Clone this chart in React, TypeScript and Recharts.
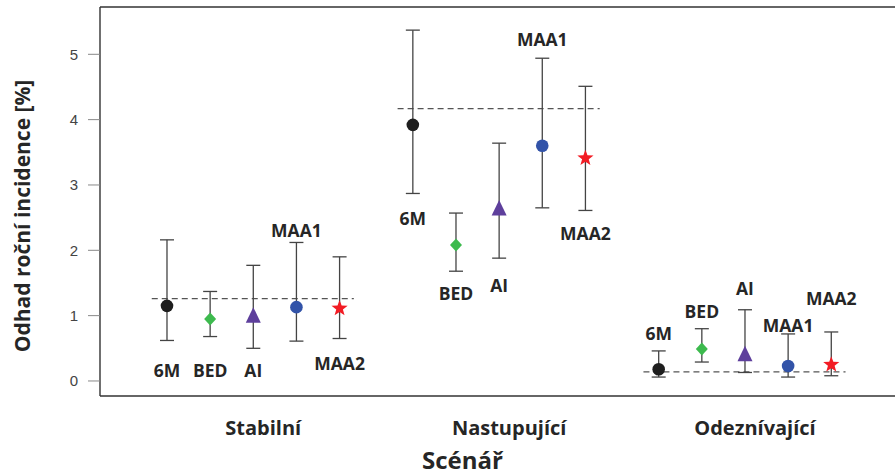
import React from "react"
import { ErrorBar, ReferenceLine, Scatter, ScatterChart, XAxis, YAxis } from "recharts"

const scenarios = ["Stabilní", "Nastupující", "Odeznívající"]
const methods = ["6M", "BED", "AI", "MAA1", "MAA2"]

// point estimates, per scenario
const est6M = [1.15, 3.92, 0.18]
const estBED = [0.95, 2.08, 0.49]
const estAI = [1.0, 2.64, 0.41]
const estMAA1 = [1.13, 3.6, 0.23]
const estMAA2 = [1.11, 3.41, 0.25]

// confidence intervals
const low6M = [0.62, 2.87, 0.06]
const up6M = [2.16, 5.37, 0.46]
const lowBED = [0.68, 1.68, 0.29]
const upBED = [1.37, 2.57, 0.8]
const lowAI = [0.5, 1.88, 0.13]
const upAI = [1.77, 3.64, 1.09]
const lowMAA1 = [0.61, 2.65, 0.06]
const upMAA1 = [2.12, 4.94, 0.72]
const lowMAA2 = [0.65, 2.61, 0.08]
const upMAA2 = [1.9, 4.51, 0.75]

// dashed line: true incidence in each scenario
const trueIncidence = [1.26, 4.17, 0.14]

// where the method name is written (y value)
const lbl6M = [0.17, 2.5, 0.74]
const lblBED = [0.17, 1.35, 1.07]
const lblAI = [0.17, 1.47, 1.42]
const lblMAA1 = [2.31, 5.24, 0.85]
const lblMAA2 = [0.28, 2.27, 1.27]

const yTicks = [0, 1, 2, 3, 4, 5]

const STEP = 0.1755
const FONT = "'Open Sans', sans-serif"
const TEXT = "#262626"

const xOf = (g: number, m: number) => g + 1 + (m - 2) * STEP

const star = (cx: number, cy: number, ro: number, ri: number) => {
  const pts: string[] = []
  for (let i = 0; i < 10; i++) {
    const r = i % 2 === 0 ? ro : ri
    const a = -Math.PI / 2 + (i * Math.PI) / 5
    pts.push(`${cx + r * Math.cos(a)},${cy + r * Math.sin(a)}`)
  }
  return pts.join(" ")
}

const shapes: Record<string, (p: any) => React.ReactElement> = {
  "6M": ({ cx, cy }) => <circle cx={cx} cy={cy} r={6.3} fill="#1e1e1e" />,
  BED: ({ cx, cy }) => (
    <polygon points={`${cx},${cy - 6.5} ${cx + 6},${cy} ${cx},${cy + 6.5} ${cx - 6},${cy}`} fill="#3dba4e" />
  ),
  AI: ({ cx, cy }) => (
    <polygon points={`${cx},${cy - 8.5} ${cx + 7.5},${cy + 7} ${cx - 7.5},${cy + 7}`} fill="#5e3f9c" />
  ),
  MAA1: ({ cx, cy }) => <circle cx={cx} cy={cy} r={6.3} fill="#3253a8" />,
  MAA2: ({ cx, cy }) => <polygon points={star(cx, cy, 8.5, 3.5)} fill="#f21c24" />,
}

const series = [
  { name: "6M", est: est6M, low: low6M, up: up6M, lbl: lbl6M },
  { name: "BED", est: estBED, low: lowBED, up: upBED, lbl: lblBED },
  { name: "AI", est: estAI, low: lowAI, up: upAI, lbl: lblAI },
  { name: "MAA1", est: estMAA1, low: lowMAA1, up: upMAA1, lbl: lblMAA1 },
  { name: "MAA2", est: estMAA2, low: lowMAA2, up: upMAA2, lbl: lblMAA2 },
]

const labelData = series.flatMap((s, m) =>
  scenarios.map((_, g) => ({ x: xOf(g, m), y: s.lbl[g], text: s.name }))
)

const GroupTick = ({ x, y, payload }: any) => (
  <text
    x={x + 10}
    y={y + 23}
    textAnchor="middle"
    dominantBaseline="central"
    fontFamily={FONT}
    fontWeight={700}
    fontSize={20}
    fill={TEXT}
  >
    {scenarios[payload.value - 1]}
  </text>
)

export default function App() {
  return (
    <div style={{ position: "absolute", left: 0, top: 0 }}>
      <ScatterChart width={895} height={476} margin={{ top: 7, right: 0, bottom: 0, left: 0 }}>
        <XAxis
          type="number"
          dataKey="x"
          domain={[0.3765, 3.6102]}
          ticks={[1, 2, 3]}
          tick={<GroupTick />}
          tickLine={false}
          height={80}
          axisLine={{ stroke: "#333", strokeWidth: 1.4 }}
          label={({ viewBox }: any) => (
            <text
              x={viewBox.x + viewBox.width / 2 - 35}
              y={viewBox.y + 73}
              textAnchor="middle"
              fontFamily={FONT}
              fontWeight={700}
              fontSize={24}
              fill={TEXT}
            >
              Scénář
            </text>
          )}
        />
        <YAxis
          type="number"
          dataKey="y"
          domain={[-0.23, 5.724]}
          ticks={yTicks}
          width={100}
          tickSize={12}
          tickMargin={10}
          tickLine={{ stroke: "#888" }}
          axisLine={{ stroke: "#333", strokeWidth: 1.4 }}
          tick={{ fontFamily: "'Liberation Sans', Arial, sans-serif", fontSize: 15, fill: "#444" }}
          allowDataOverflow
          label={() => (
            <text
              x={22}
              y={216}
              transform={`rotate(-90 22 216)`}
              textAnchor="middle"
              dominantBaseline="central"
              fontFamily={FONT}
              fontWeight={700}
              fontSize={21}
              fill={TEXT}
            >
              Odhad roční incidence [%]
            </text>
          )}
        />
        <ReferenceLine y={5.724} stroke="#333" strokeWidth={1.4} />
        {trueIncidence.map((v, g) => (
          <ReferenceLine
            key={g}
            segment={[
              { x: g + 1 - 2 * STEP - 0.062, y: v },
              { x: g + 1 + 2 * STEP + 0.058, y: v },
            ]}
            stroke="#555"
            strokeWidth={1.2}
            strokeDasharray="6 4"
          />
        ))}
        {series.map((s, m) => (
          <Scatter
            key={s.name}
            name={s.name}
            data={scenarios.map((_, g) => ({
              x: xOf(g, m),
              y: s.est[g],
              err: [s.est[g] - s.low[g], s.up[g] - s.est[g]],
            }))}
            shape={shapes[s.name]}
            isAnimationActive={false}
          >
            <ErrorBar dataKey="err" direction="y" width={7} stroke="#444" strokeWidth={1.3} />
          </Scatter>
        ))}
        <Scatter
          data={labelData}
          isAnimationActive={false}
          shape={({ cx, cy, payload }: any) => (
            <text
              x={cx}
              y={cy}
              textAnchor="middle"
              dominantBaseline="central"
              fontFamily={FONT}
              fontWeight={700}
              fontSize={17.5}
              fill={TEXT}
            >
              {payload.text}
            </text>
          )}
        />
      </ScatterChart>
    </div>
  )
}
